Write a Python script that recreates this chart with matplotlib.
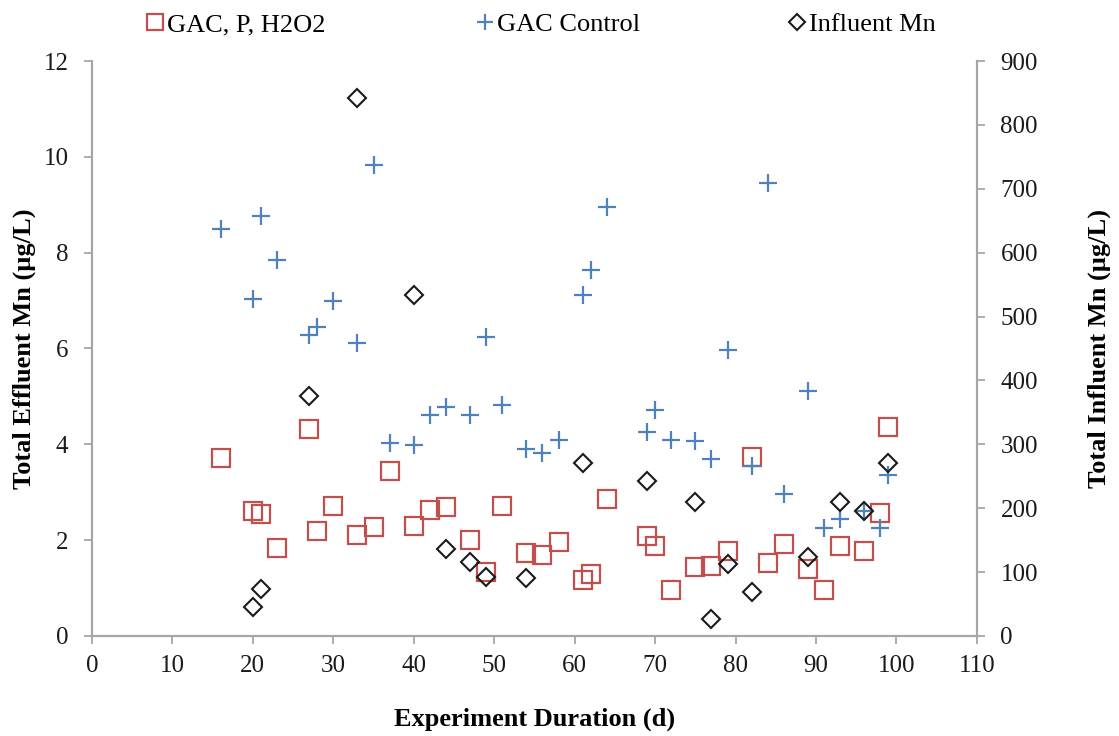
import numpy as np
import matplotlib.pyplot as plt

plt.rcParams['font.family'] = ['Liberation Serif', 'DejaVu Serif']

# Experiment days (shared by both effluent series)
days = [16, 20, 21, 23, 27, 28, 30, 33, 35, 37, 40, 42, 44, 47, 49, 51, 54, 56, 58,
        61, 62, 64, 69, 70, 72, 75, 77, 79, 82, 84, 86, 89, 91, 93, 96, 98, 99]

# GAC, P, H2O2 effluent Mn (ug/L)
gac_p_h2o2 = [3.71, 2.60, 2.55, 1.84, 4.31, 2.20, 2.72, 2.11, 2.28, 3.45, 2.29, 2.63, 2.69,
              2.01, 1.33, 2.72, 1.73, 1.68, 1.97, 1.17, 1.29, 2.86, 2.08, 1.88, 0.96, 1.44,
              1.47, 1.77, 3.74, 1.53, 1.93, 1.40, 0.97, 1.87, 1.77, 2.56, 4.37]

# GAC control effluent Mn (ug/L)
gac_control = [8.49, 7.04, 8.76, 7.84, 6.29, 6.45, 7.00, 6.11, 9.82, 4.03, 3.99, 4.61, 4.78,
               4.61, 6.25, 4.83, 3.91, 3.81, 4.09, 7.11, 7.63, 8.95, 4.25, 4.71, 4.08, 4.07,
               3.69, 5.97, 3.55, 9.46, 2.97, 5.12, 2.25, 2.44, 2.60, 2.25, 3.37]

# Influent Mn (ug/L), right axis
infl_days = [20, 21, 27, 33, 40, 44, 47, 49, 54, 61, 69, 75, 77, 79, 82, 89, 93, 96, 99]
influent = [45, 73, 375, 842, 533, 136, 116, 92, 90, 270, 243, 210, 26, 112, 69, 123, 210, 195, 270]

fig = plt.figure(figsize=(11.19, 7.36), dpi=100)
ax = fig.add_axes([0.0822, 0.1359, 0.7908, 0.7812])
ax2 = ax.twinx()

red = '#c0504d'
blue = '#4f81bd'
gray = '#a6a6a6'

h1, = ax.plot(days, gac_p_h2o2, linestyle='none', marker='s', markersize=13.5,
              markerfacecolor='none', markeredgecolor=red, markeredgewidth=1.6,
              label='GAC, P, H2O2')
h2, = ax.plot(days, gac_control, linestyle='none', marker='+', markersize=13,
              color=blue, markeredgewidth=1.6, label='GAC Control')
h3, = ax2.plot(infl_days, influent, linestyle='none', marker='D', markersize=9.5,
               markerfacecolor='none', markeredgecolor='#1a1a1a', markeredgewidth=1.5,
               label='Influent Mn')

ax.set_xlim(0, 110)
ax.set_ylim(0, 12)
ax2.set_ylim(0, 900)
ax.set_xticks(np.arange(0, 111, 10))
ax.set_yticks(np.arange(0, 13, 2))
ax2.set_yticks(np.arange(0, 901, 100))

for a in (ax, ax2):
    a.spines['top'].set_visible(False)
    for s in ('left', 'right', 'bottom'):
        a.spines[s].set_color(gray)
        a.spines[s].set_linewidth(1.5)
    a.tick_params(axis='y', colors=gray, labelcolor='#1a1a1a', labelsize=18,
                  length=6, width=1.3, pad=11)
ax.tick_params(axis='x', colors=gray, labelcolor='#1a1a1a', labelsize=18,
               length=6, width=1.3, pad=8)

ax.set_xlabel('Experiment Duration (d)', fontsize=19, fontweight='bold')
ax.set_ylabel('Total Effluent Mn (µg/L)', fontsize=19, fontweight='bold')
ax2.set_ylabel('Total Influent Mn (µg/L)', fontsize=19, fontweight='bold')
ax.xaxis.set_label_coords(0.5, -0.125)
ax.yaxis.set_label_coords(-0.0632, 0.5)
ax2.yaxis.set_label_coords(1.1246, 0.5)

# legend entries laid out along the top, each placed on its own
for h, x0, ms in [(h1, 144.5, 0.85), (h2, 474.5, 0.92), (h3, 786.5, 0.9)]:
    fig.legend(handles=[h], loc='upper left', bbox_to_anchor=(x0 / 1119, 0.983),
               frameon=False, fontsize=19, handletextpad=0.05, handlelength=0.8,
               borderpad=0, borderaxespad=0, markerscale=ms)

fig.savefig('out.png', dpi=100)
